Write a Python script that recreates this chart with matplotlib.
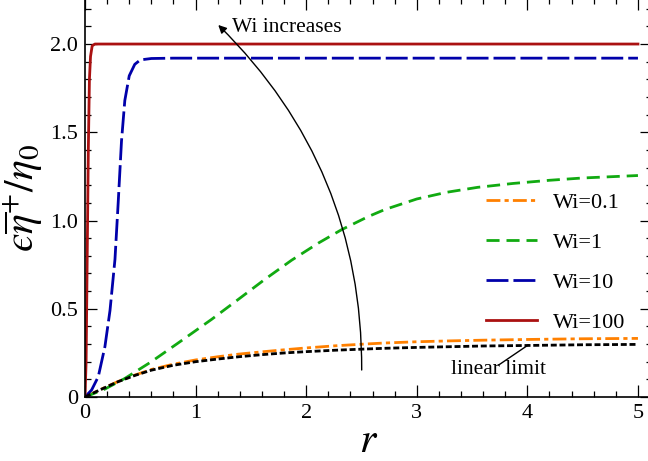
import matplotlib
matplotlib.use("Agg")
import matplotlib.pyplot as plt
from matplotlib.ticker import MultipleLocator, FixedLocator, FixedFormatter

plt.rcParams['font.family'] = ['Liberation Serif', 'DejaVu Serif']
plt.rcParams['mathtext.fontset'] = 'stix'
plt.rcParams['lines.scale_dashes'] = False

# ---- data ----
r_lin = [0, 0.1, 0.2, 0.3, 0.45, 0.6, 0.8, 1.0, 1.2, 1.39, 1.6, 1.81, 2.0, 2.26, 2.5, 2.71,
         3.0, 3.3, 3.6, 4.0, 4.5, 5.0]
v_lin = [0, 0.03, 0.059, 0.087, 0.122, 0.152, 0.180, 0.200, 0.215, 0.228, 0.240, 0.250, 0.257,
         0.265, 0.271, 0.276, 0.281, 0.285, 0.289, 0.292, 0.296, 0.298]

r_wi01 = [0, 0.1, 0.2, 0.3, 0.45, 0.6, 0.8, 1.0, 1.2, 1.39, 1.6, 1.81, 2.0, 2.26, 2.5, 2.71,
          3.0, 3.3, 3.6, 4.0, 4.5, 5.0]
v_wi01 = [0, 0.03, 0.06, 0.088, 0.124, 0.156, 0.186, 0.210, 0.228, 0.243, 0.256, 0.268, 0.278,
          0.290, 0.299, 0.306, 0.313, 0.318, 0.322, 0.326, 0.330, 0.332]

r_wi1 = [0, 0.18, 0.36, 0.60, 0.84, 1.145, 1.386, 1.627, 1.868, 2.11, 2.32, 2.56, 2.71,
         3.0, 3.27, 3.55, 3.87, 4.2, 4.5, 5.0]
v_wi1 = [0, 0.045, 0.105, 0.20, 0.305, 0.44, 0.553, 0.667, 0.775, 0.872, 0.948, 1.022, 1.062,
         1.122, 1.16, 1.188, 1.21, 1.228, 1.241, 1.255]

r_wi10 = [0, 0.06, 0.12, 0.18, 0.226, 0.271, 0.30, 0.33, 0.36, 0.40, 0.45, 0.50, 0.60, 0.8, 5.0]
v_wi10 = [0, 0.04, 0.115, 0.285, 0.49, 0.78, 1.10, 1.45, 1.68, 1.82, 1.885, 1.91, 1.918, 1.92, 1.92]

r_wi100 = [0, 0.01, 0.02, 0.03, 0.04, 0.05, 0.065, 0.09, 5.0]
v_wi100 = [0, 0.2, 0.8, 1.4, 1.8, 1.93, 1.99, 2.0, 2.0]

labels = ['Wi=0.1', 'Wi=1', 'Wi=10', 'Wi=100']
ytick_vals = [0, 0.5, 1.0, 1.5, 2.0]
ytick_labels = ['0', '0.5', '1.0', '1.5', '2.0']
xtick_vals = [0, 1, 2, 3, 4, 5]
xtick_labels = ['0', '1', '2', '3', '4', '5']

fig = plt.figure(figsize=(6.48, 4.61), dpi=100)
ax = fig.add_axes([85/648, 64/461, 567/648, 398.5/461])

lw = 2.0
l1, = ax.plot(r_wi01, v_wi01, color='#ff8000', lw=lw, ls=(0, (10, 3, 3, 3)), label=labels[0])
l2, = ax.plot(r_wi1, v_wi1, color='#11aa11', lw=lw, ls=(0, (9.4, 5)), label=labels[1])
l3, = ax.plot(r_wi10, v_wi10, color='#0000aa', lw=lw, ls=(0, (15.8, 3.6)), label=labels[2])
l4, = ax.plot(r_wi100, v_wi100, color='#aa1111', lw=lw, ls='-', label=labels[3])
ax.plot(r_lin, v_lin, color='black', lw=lw, ls=(0, (4.3, 2)), zorder=3)

ax.set_xlim(0, 5.127)
ax.set_ylim(0, 2.258)

ax.xaxis.set_major_locator(FixedLocator(xtick_vals))
ax.xaxis.set_major_formatter(FixedFormatter(xtick_labels))
ax.xaxis.set_minor_locator(MultipleLocator(0.2))
ax.yaxis.set_major_locator(FixedLocator(ytick_vals))
ax.yaxis.set_major_formatter(FixedFormatter(ytick_labels))
ax.yaxis.set_minor_locator(MultipleLocator(0.1))

ax.tick_params(which='both', direction='in', top=True, right=True, labelsize=16, width=0.9)
ax.tick_params(which='major', length=8.6)
ax.tick_params(which='minor', length=4.3)
ax.tick_params(axis='x', pad=5)
ax.tick_params(axis='y', pad=5)
for s in ax.spines.values():
    s.set_linewidth(1.2)

ax.set_xlabel('$r$', fontsize=30, labelpad=0)
ax.set_ylabel('$\u03f5\\overline{\\eta}^{+}/\\eta_0$', fontsize=30, labelpad=4)

ax.legend(handles=[l1, l2, l3, l4], loc='center left', bbox_to_anchor=(0.707, 0.337),
          frameon=False, fontsize=16, handlelength=2.3, handletextpad=0.72,
          labelspacing=0.88, borderpad=0, borderaxespad=0)

ax.text(1.329, 2.096, 'Wi increases', fontsize=15.5, ha='left', va='center')
ax.annotate('', xy=(1.205, 2.108), xytext=(2.502, 0.153),
            arrowprops=dict(arrowstyle='-|>', color='black', lw=1.0, mutation_scale=12,
                            shrinkA=0, shrinkB=0, connectionstyle='arc3,rad=0.21'))
ax.text(3.306, 0.153, 'linear limit', fontsize=15.5, ha='left', va='center')
ax.annotate('', xy=(4.008, 0.295), xytext=(3.74, 0.181),
            arrowprops=dict(arrowstyle='-', color='black', lw=1.0, shrinkA=0, shrinkB=0))

fig.savefig('out.png', dpi=100)
